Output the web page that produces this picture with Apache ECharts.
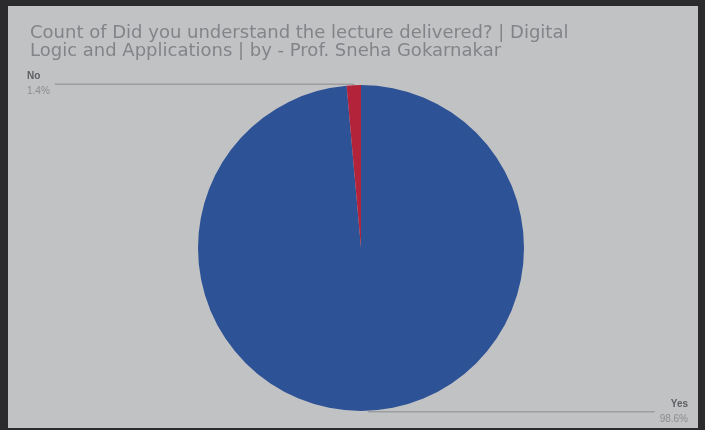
<!DOCTYPE html>
<html><head><meta charset="utf-8">
<script src="https://cdn.jsdelivr.net/npm/echarts@6/dist/echarts.min.js"></script>
<style>
html,body{margin:0;padding:0;width:705px;height:430px;background:#2b2b2d;overflow:hidden}
#c{position:absolute;left:8px;top:6px;width:690px;height:422px;background:#c1c2c4}
</style></head><body>
<div id="c"></div>
<script>
const titleText = 'Count of Did you understand the lecture delivered? | Digital\nLogic and Applications | by - Prof. Sneha Gokarnakar';
const categories = ['Yes', 'No'];
const counts = [70, 1];
const colors = ['#2d5296', '#b3243a'];
const labelEdge = [10, 19];

const chart = echarts.init(document.getElementById('c'), null, {renderer:'canvas'});
chart.setOption({
  backgroundColor: '#c1c2c4',
  animation: false,
  title: {
    text: titleText,
    left: 17, top: 13,
    textStyle: {color:'#838488', fontSize:18, fontWeight:'normal', fontFamily:'DejaVu Sans', lineHeight:18}
  },
  series: [{
    type: 'pie',
    center: [353, 242],
    radius: 163,
    startAngle: 90,
    clockwise: true,
    data: categories.map((c,i)=>({name:c, value:counts[i], itemStyle:{color:colors[i]},
      label:{edgeDistance: labelEdge[i]}})),
    label: {
      show: true,
      position: 'outside',
      alignTo: 'edge',
      formatter: '{n|{b}}\n{p|{d}%}',
      rich: {
        n: {color:'#5e5f62', fontSize:10, fontWeight:'bold', fontFamily:'Liberation Sans, Arial', lineHeight:15},
        p: {color:'#8c8d90', fontSize:10, fontFamily:'Liberation Sans, Arial', lineHeight:15}
      }
    },
    percentPrecision: 1,
    labelLine: {show:true, length:1, length2:20, lineStyle:{color:'#8a8b8e', width:1}},
    emphasis: {disabled:true}
  }]
});
</script>
</body></html>
